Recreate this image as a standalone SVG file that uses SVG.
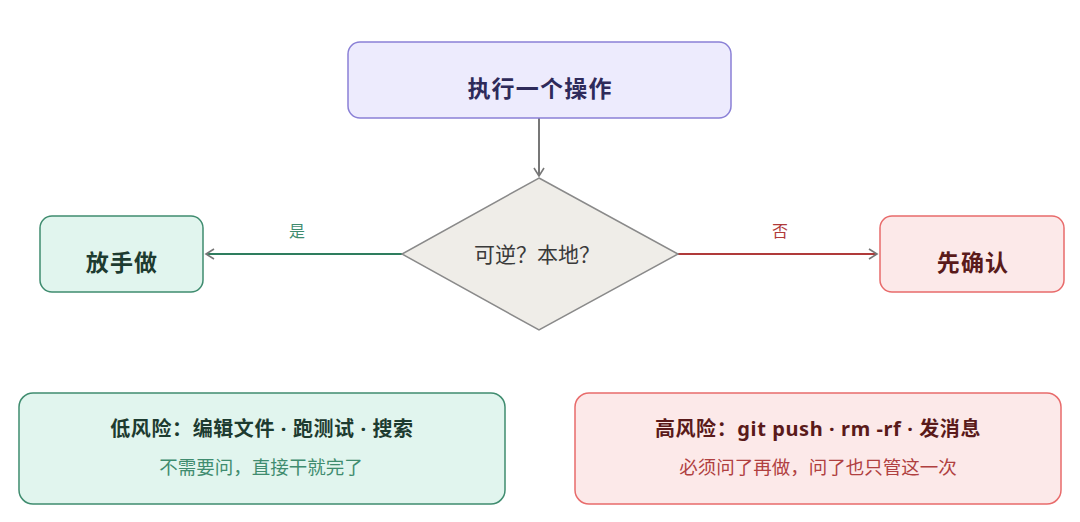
<svg xmlns="http://www.w3.org/2000/svg" width="1080" height="522" viewBox="0 0 1080 522">
<style>
text{font-family:"Noto Sans","Noto Sans CJK SC",sans-serif;text-anchor:middle;dominant-baseline:central}
.t{font-size:23px;font-weight:700;letter-spacing:1.2px}
.h{font-size:20px;font-weight:700;letter-spacing:0.6px}
.s{font-size:18.5px}
.g{fill:#E1F5EE;stroke:#3F8C6F;stroke-width:1.5}
.r{fill:#FCE9E9;stroke:#E86B6B;stroke-width:1.5}
.ln{fill:none;stroke-width:2}
</style>
<defs>
<marker id="ah" markerWidth="12" markerHeight="12" refX="10" refY="6" orient="auto" markerUnits="userSpaceOnUse">
<path d="M2,1 L10,6 L2,11" fill="none" stroke="#777" stroke-width="1.6"/>
</marker>
</defs>
<rect width="1080" height="522" fill="#fff"/>
<g id="connectors">
<line class="ln" x1="539" y1="118" x2="539" y2="176" stroke="#777" stroke-width="1.5" marker-end="url(#ah)"/>
<line class="ln" x1="402" y1="254" x2="206" y2="254" stroke="#2E7D5E" marker-end="url(#ah)"/>
<text x="297" y="231" font-size="16" fill="#3F8C6F">是</text>
<line class="ln" x1="678" y1="254" x2="877" y2="254" stroke="#B03A3A" marker-end="url(#ah)"/>
<text x="780" y="231" font-size="16" fill="#B03A3A">否</text>
</g>
<g id="start">
<rect x="348" y="42" width="383" height="76" rx="12" fill="#EDEBFD" stroke="#8A80D6" stroke-width="1.5"/>
<text class="t" x="540" y="88" fill="#2E2A5A">执行一个操作</text>
</g>
<g id="decision">
<polygon points="539,178 678,254 539,330 402,254" fill="#EFEDE8" stroke="#8A8A8A" stroke-width="1.5"/>
<text x="537" y="254" font-size="21" fill="#3A3A3A">可逆？本地？</text>
</g>
<g id="go">
<rect class="g" x="40" y="216" width="163" height="76" rx="12"/>
<text class="t" x="122" y="262" fill="#1D3B30">放手做</text>
</g>
<g id="confirm">
<rect class="r" x="880" y="216" width="184" height="76" rx="12"/>
<text class="t" x="973" y="262" fill="#5A1A1A">先确认</text>
</g>
<g id="low">
<rect class="g" x="19" y="393" width="486" height="111" rx="14"/>
<text class="h" x="262" y="428" fill="#1D3B30">低风险：编辑文件 · 跑测试 · 搜索</text>
<text class="s" x="261" y="466" fill="#3F8C6F">不需要问，直接干就完了</text>
</g>
<g id="high">
<rect class="r" x="575" y="393" width="486" height="111" rx="14"/>
<text class="h" x="818" y="428" fill="#5A1A1A">高风险：git push · rm -rf · 发消息</text>
<text class="s" x="818" y="466" fill="#B04040">必须问了再做，问了也只管这一次</text>
</g>
</svg>
